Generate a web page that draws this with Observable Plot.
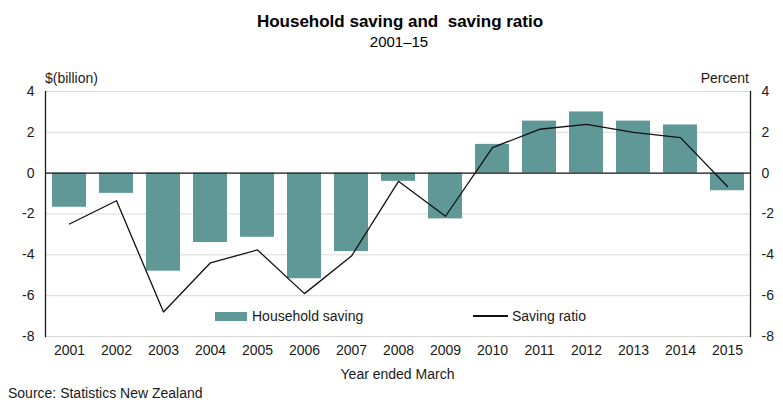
<!DOCTYPE html>
<html>
<head>
<meta charset="utf-8">
<script src="https://cdn.jsdelivr.net/npm/d3@7"></script>
<script src="https://cdn.jsdelivr.net/npm/@observablehq/plot@0.6"></script>
<style>
  html, body { margin: 0; padding: 0; background: #fff; }
  #wrap { position: relative; width: 783px; height: 405px; font-family: "Liberation Sans", Arial, sans-serif; color: #1a1a1a; }
  #wrap svg { position: absolute; left: 0; top: 0; }
  .t { position: absolute; white-space: pre; line-height: 1; }
  .legend-item { position: absolute; display: flex; align-items: center; font-size: 14px; line-height: 1; white-space: pre; }
</style>
</head>
<body>
<div id="wrap"></div>
<script>
const years = ["2001","2002","2003","2004","2005","2006","2007","2008","2009","2010","2011","2012","2013","2014","2015"];
const householdSaving = [-1.67, -0.99, -4.8, -3.4, -3.14, -5.17, -3.84, -0.4, -2.24, 1.41, 2.55, 3.0, 2.55, 2.36, -0.86];
const savingRatio = [-2.49, -1.35, -6.8, -4.39, -3.76, -5.9, -4.06, -0.4, -2.11, 1.25, 2.15, 2.39, 2.0, 1.74, -0.65];
const yTicks = [-8, -6, -4, -2, 0, 2, 4];

const titleText = "Household saving and  saving ratio";
const subtitleText = "2001\u201315";
const leftUnit = "$(billion)";
const rightUnit = "Percent";
const xLabel = "Year ended March";
const sourceText = "Source: Statistics New Zealand";
const seriesNames = ["Household saving", "Saving ratio"];

const barColor = "#5f9896";
const lineColor = "#111";

const data = years.map((y, i) => ({year: y, saving: householdSaving[i], ratio: savingRatio[i]}));

const chart = Plot.plot({
  width: 783,
  height: 405,
  marginLeft: 45,
  marginRight: 33,
  marginTop: 91,
  marginBottom: 69,
  style: {fontFamily: "Liberation Sans, Arial, sans-serif", fontSize: "14px", color: "#1a1a1a", background: "#fff"},
  x: {type: "band", domain: years, paddingInner: 0.28, paddingOuter: 0.14, label: null},
  y: {domain: [-8, 4], label: null},
  marks: [
    Plot.gridY(yTicks, {stroke: "#d9d9d9", strokeOpacity: 1}),
    Plot.barY(data, {x: "year", y: "saving", fill: barColor}),
    Plot.ruleY([0], {stroke: "#1a1a1a", strokeWidth: 1.2}),
    Plot.line(data, {x: "year", y: "ratio", stroke: lineColor, strokeWidth: 1.3}),
    Plot.frame({anchor: "left", stroke: "#1a1a1a", strokeWidth: 1.3}),
    Plot.frame({anchor: "right", stroke: "#1a1a1a", strokeWidth: 1.3}),
    Plot.axisY(yTicks, {anchor: "left", tickSize: 0, tickPadding: 11, tickFormat: d => String(d), label: null}),
    Plot.axisY(yTicks, {anchor: "right", tickSize: 0, tickPadding: 11, tickFormat: d => String(d), label: null}),
    Plot.axisX({anchor: "bottom", tickSize: 0, tickPadding: 9, label: null})
  ]
});

const wrap = document.getElementById("wrap");
wrap.appendChild(chart);

function addText(txt, css) {
  const d = document.createElement("div");
  d.className = "t";
  d.textContent = txt;
  Object.assign(d.style, css);
  wrap.appendChild(d);
  return d;
}
addText(titleText, {left: "0", width: "800px", textAlign: "center", top: "12.5px", fontSize: "17px", fontWeight: "bold", color: "#000"});
addText(subtitleText, {left: "0", width: "798px", textAlign: "center", top: "34px", fontSize: "15px", color: "#000"});
addText(leftUnit, {left: "45px", top: "71px", fontSize: "14px"});
addText(rightUnit, {right: "34px", top: "71px", fontSize: "14px"});
addText(xLabel, {left: "45px", width: "705px", textAlign: "center", top: "367px", fontSize: "14px"});
addText(sourceText, {left: "8px", top: "386px", fontSize: "14px"});

// legend
const l1 = document.createElement("div");
l1.className = "legend-item";
l1.style.left = "215px"; l1.style.top = "309px";
l1.innerHTML = `<span style="display:inline-block;width:32px;height:9px;background:${barColor};margin-right:5px"></span><span></span>`;
l1.lastChild.textContent = seriesNames[0];
wrap.appendChild(l1);
const l2 = document.createElement("div");
l2.className = "legend-item";
l2.style.left = "473px"; l2.style.top = "309px";
l2.innerHTML = `<span style="display:inline-block;width:35px;height:1.4px;background:${lineColor};margin-right:4px"></span><span></span>`;
l2.lastChild.textContent = seriesNames[1];
wrap.appendChild(l2);
</script>
</body>
</html>
